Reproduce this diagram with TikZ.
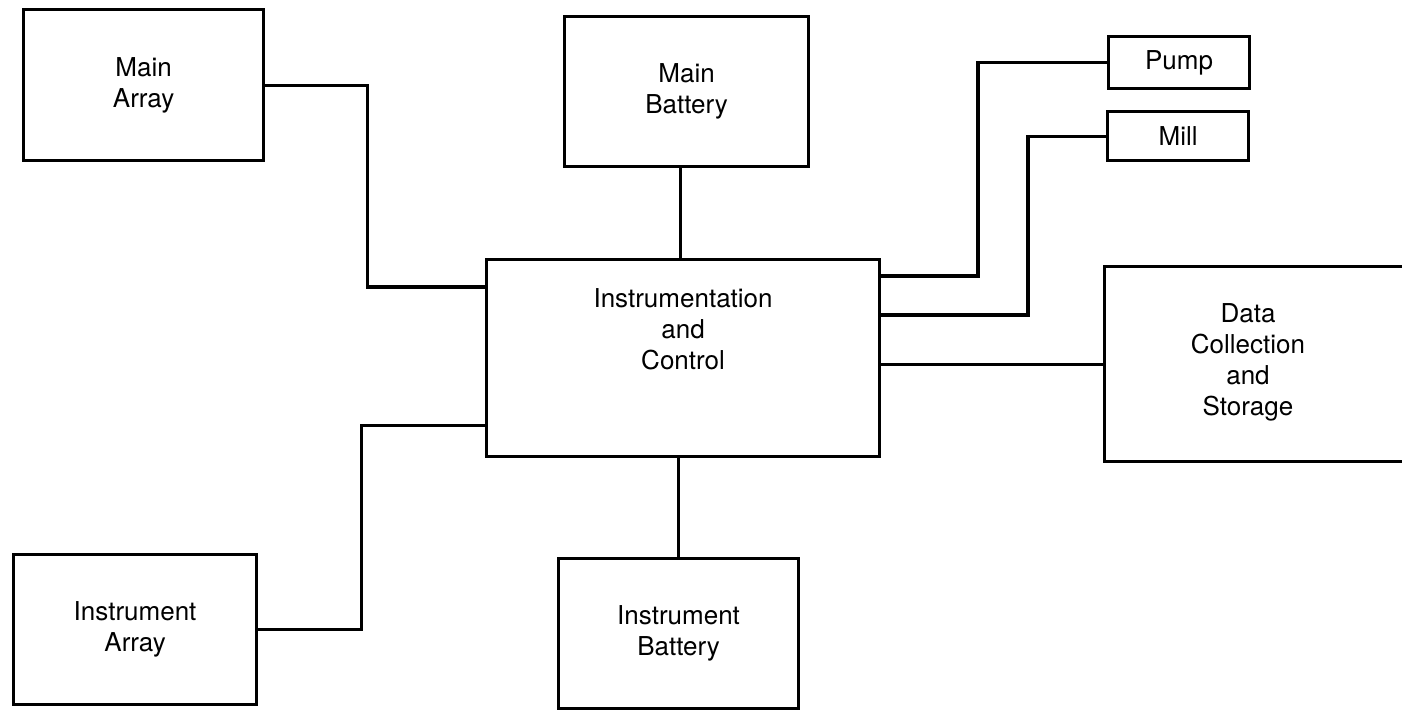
\documentclass[tikz,border=0pt]{standalone}
\usepackage{fontspec}
\setmainfont{TeX Gyre Heros}

\tikzset{
  blk/.style={draw, line width=0.9pt, anchor=north west, align=center, inner sep=0pt,
    font=\fontsize{7.4}{8.8}\selectfont},
  txt/.style={align=center, font=\fontsize{7.4}{8.8}\selectfont},
  wire/.style={line width=0.9pt}
}

\begin{document}
\begin{tikzpicture}
        \useasboundingbox (0,0) rectangle (14.02,-7.10);
        \clip (0,0) rectangle (14.02,-7.10);
        % centre block
        \node[blk, minimum width=3.93cm, minimum height=1.97cm] (ic) at (4.85,-2.58) {};
        \node[txt] (ictext) at ([yshift=0.29cm]ic.center) {Instrumentation\\and\\Control};
        % arrays
        \node[blk, minimum width=2.40cm, minimum height=1.51cm] (ma) at (0.22,-0.08) {Main\\Array};
        \node[blk, minimum width=2.43cm, minimum height=1.50cm] (ia) at (0.12,-5.53) {Instrument\\Array};
        \draw[wire] (ma.east) -- ++(1.02,0) |- ([yshift=-0.29cm]ic.north west);
        \draw[wire] (ia.east) -- ++(1.03,0) |- ([yshift=0.33cm]ic.south west);
        % batteries
        \node[blk, minimum width=2.44cm, minimum height=1.50cm] (mb) at (5.63,-0.15) {Main\\Battery};
        \node[blk, minimum width=2.40cm, minimum height=1.50cm] (ib) at (5.57,-5.57) {Instrument\\Battery};
        \draw[wire] ([xshift=-0.06cm]mb.south) -- ([xshift=-0.06cm]mb.south |- ic.north);
        \draw[wire] (ib.north) -- (ib.north |- ic.south);
        % loads
        \node[blk, minimum width=1.41cm, minimum height=0.52cm] (pump) at (11.07,-0.35) {Pump};
        \node[blk, minimum width=1.41cm, minimum height=0.49cm] (mill) at (11.06,-1.10) {Mill};
        \draw[wire] (pump.west) -- ++(-1.29,0) |- ([yshift=-0.18cm]ic.north east);
        \draw[wire] (mill.west) -- ++(-0.78,0) |- ([yshift=-0.57cm]ic.north east);
        % data
        \node[blk, minimum width=3.20cm, minimum height=1.95cm, align=left] (dcs) at (11.03,-2.65) {};
        \node[txt] (dcstext) at (12.48,-3.62) {Data\\Collection\\and\\Storage};
        \draw[wire] (dcs.west) -- (dcs.west -| ic.east);
\end{tikzpicture}
\end{document}
